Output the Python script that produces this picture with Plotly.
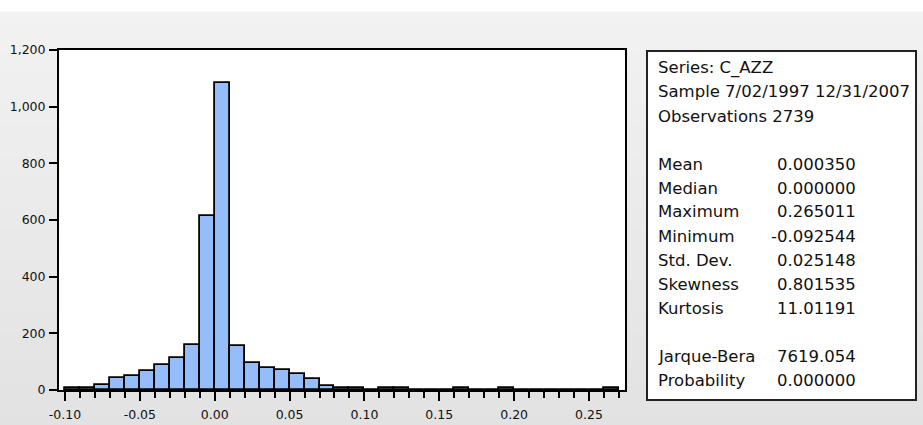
import plotly.graph_objects as go

W, H = 923, 425

# Histogram of daily changes: left bin edges (width 0.01) and counts
bin_left = [-0.10, -0.09, -0.08, -0.07, -0.06, -0.05, -0.04, -0.03, -0.02, -0.01,
            0.00, 0.01, 0.02, 0.03, 0.04, 0.05, 0.06, 0.07, 0.08, 0.09,
            0.10, 0.11, 0.12, 0.13, 0.14, 0.15, 0.16, 0.17, 0.18, 0.19,
            0.20, 0.21, 0.22, 0.23, 0.24, 0.25, 0.26]
counts = [6, 6, 18, 41, 49, 67, 88, 112, 159, 613,
          1082, 154, 96, 78, 69, 55, 39, 14, 6, 6,
          0, 6, 6, 0, 0, 0, 6, 0, 0, 6,
          0, 0, 0, 0, 0, 0, 6]
bin_width = 0.01

x_tick_vals = [-0.10, -0.05, 0.00, 0.05, 0.10, 0.15, 0.20, 0.25]
x_tick_labels = ["-0.10", "-0.05", "0.00", "0.05", "0.10", "0.15", "0.20", "0.25"]
y_tick_vals = [0, 200, 400, 600, 800, 1000, 1200]
y_tick_labels = ["0", "200", "400", "600", "800", "1,000", "1,200"]

# Descriptive statistics panel
series_name = "C_AZZ"
sample_range = "7/02/1997 12/31/2007"
n_obs = 2739
stat_names_1 = ["Mean", "Median", "Maximum", "Minimum", "Std. Dev.", "Skewness", "Kurtosis"]
stat_values_1 = ["0.000350", "0.000000", "0.265011", "-0.092544", "0.025148", "0.801535", "11.01191"]
stat_names_2 = ["Jarque-Bera", "Probability"]
stat_values_2 = ["7619.054", "0.000000"]

FONT = "DejaVu Sans"
TXT = "#111111"


def px(x):
    return x / W


def py(y):
    return 1 - y / H


fig = go.Figure()
fig.add_trace(go.Bar(
    x=bin_left, y=counts, width=bin_width, offset=0,
    marker=dict(color="#95BDFA", line=dict(color="#000000", width=1.8)),
    hoverinfo="x+y",
))

shapes = []
# window background: white strip on top, then a soft grey vertical gradient
shapes.append(dict(type="rect", xref="paper", yref="paper", x0=0, x1=1, y0=py(12), y1=1,
                   fillcolor="#ffffff", line=dict(width=0), layer="below"))
n_bands = 40
top, bot = 12, H
c_top, c_bot = 0xF2, 0xE2
for i in range(n_bands):
    y0 = top + (bot - top) * i / n_bands
    y1 = top + (bot - top) * (i + 1) / n_bands
    c = round(c_top + (c_bot - c_top) * (i + 0.5) / n_bands)
    col = f"rgb({c},{c},{c})"
    shapes.append(dict(type="rect", xref="paper", yref="paper", x0=0, x1=1,
                       y0=py(y1), y1=py(y0) + 0.001, fillcolor=col,
                       line=dict(width=0), layer="below"))
# white plot area
shapes.append(dict(type="rect", xref="paper", yref="paper", x0=px(59), x1=px(625),
                   y0=py(390), y1=py(50), fillcolor="#ffffff", line=dict(width=0), layer="below"))
# statistics box
shapes.append(dict(type="rect", xref="paper", yref="paper", x0=px(647), x1=px(916),
                   y0=py(400), y1=py(51), fillcolor="#ffffff",
                   line=dict(color="#222222", width=2)))

annotations = []


def label(text, x, y, anchor="left"):
    annotations.append(dict(text=text, xref="paper", yref="paper", x=px(x), y=py(y),
                            xanchor=anchor, yanchor="middle", showarrow=False,
                            font=dict(family=FONT, size=16.5, color=TXT)))


LX, VX = 656, 858
label(f"Series: {series_name}", LX, 68)
label(f"Sample {sample_range}", LX, 92)
label(f"Observations {n_obs}", LX, 116)
for i, (n, v) in enumerate(zip(stat_names_1, stat_values_1)):
    label(n, LX, 164 + 24 * i)
    label(v, VX, 164 + 24 * i, anchor="right")
for i, (n, v) in enumerate(zip(stat_names_2, stat_values_2)):
    label(n, LX, 356 + 24 * i)
    label(v, VX, 356 + 24 * i, anchor="right")

fig.update_layout(
    width=W, height=H,
    margin=dict(l=0, r=0, t=0, b=0),
    paper_bgcolor="#ececec",
    plot_bgcolor="rgba(0,0,0,0)",
    showlegend=False,
    bargap=0,
    shapes=shapes,
    annotations=annotations,
    font=dict(family=FONT, size=12.5, color=TXT),
    xaxis=dict(
        domain=[px(59), px(625)],
        range=[-0.10401, 0.27405],
        showgrid=False, zeroline=False,
        showline=True, linecolor="#000000", linewidth=2, mirror=True,
        ticks="outside", ticklen=9, tickwidth=1.6, tickcolor="#000000",
        tickvals=x_tick_vals, ticktext=x_tick_labels,
        ticklabelstandoff=3,
        minor=dict(ticks="outside", dtick=0.01, tick0=0, ticklen=6,
                   tickwidth=1.6, tickcolor="#000000", showgrid=False),
        automargin=False,
        tickfont=dict(family=FONT, size=12.5, color=TXT),
    ),
    yaxis=dict(
        domain=[py(390), py(50)],
        range=[0, 1200],
        showgrid=False, zeroline=False,
        showline=True, linecolor="#000000", linewidth=2, mirror=True,
        ticks="outside", ticklen=8, tickwidth=1.6, tickcolor="#000000",
        tickvals=y_tick_vals, ticktext=y_tick_labels,
        ticklabelstandoff=1,
        automargin=False,
        tickfont=dict(family=FONT, size=12.5, color=TXT),
    ),
)

fig.write_html("out.html")
